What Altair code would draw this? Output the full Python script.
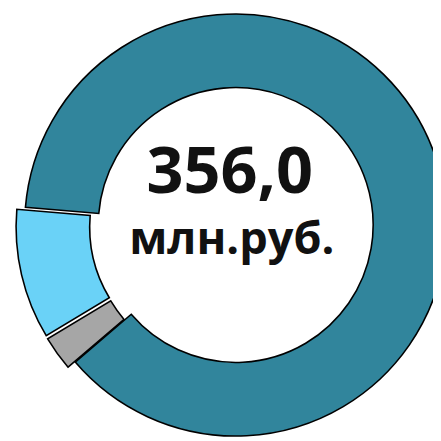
import math
import altair as alt
import pandas as pd

# --- data -------------------------------------------------------------
segments = ["Прочие", "Сегмент 2", "Сегмент 1"]
values = [9.4, 35.4, 311.2]
colors = ["#A6A6A6", "#6AD2F7", "#31859C"]
unit_label = "млн.руб."

# --- styling ------------------------------------------------------------
explode_px = [9, 9, 0]
start_deg = 229.5
cx, cy = 232, 217
inner_r, outer_r = 140, 215

total = sum(values)
total_label = f"{total:.1f}".replace(".", ",")

df = pd.DataFrame({"segment": segments, "value": values, "ord": list(range(len(segments)))})

start = math.radians(start_deg)
theta_scale = alt.Scale(domain=[0, total], range=[start, start + 2 * math.pi])
color_scale = alt.Scale(domain=segments, range=colors)

base = (
    alt.Chart(df)
    .transform_window(v1="sum(value)", sort=[alt.SortField("ord")], frame=[None, 0])
    .transform_calculate(v0="datum.v1 - datum.value")
)

layers = []
cum = 0.0
offsets = []
for seg, val, ex in zip(segments, values, explode_px):
    mid = start + 2 * math.pi * (cum + val / 2) / total
    offsets.append((ex * math.sin(mid), -ex * math.cos(mid)))
    cum += val

draw_order = [2, 0, 1]
for i in draw_order:
    dx, dy = offsets[i]
    layers.append(
        base.transform_filter(alt.datum.segment == segments[i])
        .mark_arc(
            innerRadius=inner_r,
            outerRadius=outer_r,
            x=cx,
            y=cy,
            xOffset=dx,
            yOffset=dy,
            stroke="black",
            strokeWidth=1.6,
        )
        .encode(
            theta=alt.Theta("v0:Q", scale=theta_scale),
            theta2="v1:Q",
            color=alt.Color("segment:N", scale=color_scale, legend=None),
        )
    )

txt_df = pd.DataFrame({"big": [total_label], "unit": [unit_label]})
t1 = alt.Chart(txt_df).mark_text(
    font="Open Sans", fontWeight="bold", fontSize=66, color="#111111",
    align="center", baseline="alphabetic", x=226, y=184,
).encode(text="big:N")
t2 = alt.Chart(txt_df).mark_text(
    font="Open Sans", fontWeight="bold", fontSize=46, color="#111111",
    align="center", baseline="alphabetic", x=228, y=247,
).encode(text="unit:N")

chart = (
    alt.layer(*layers, t1, t2)
    .properties(width=433, height=433, padding=0, autosize=alt.AutoSizeParams(type="none"))
    .configure_view(stroke=None)
)

chart.save("out.html", embed_options={"renderer": "svg", "actions": False})
